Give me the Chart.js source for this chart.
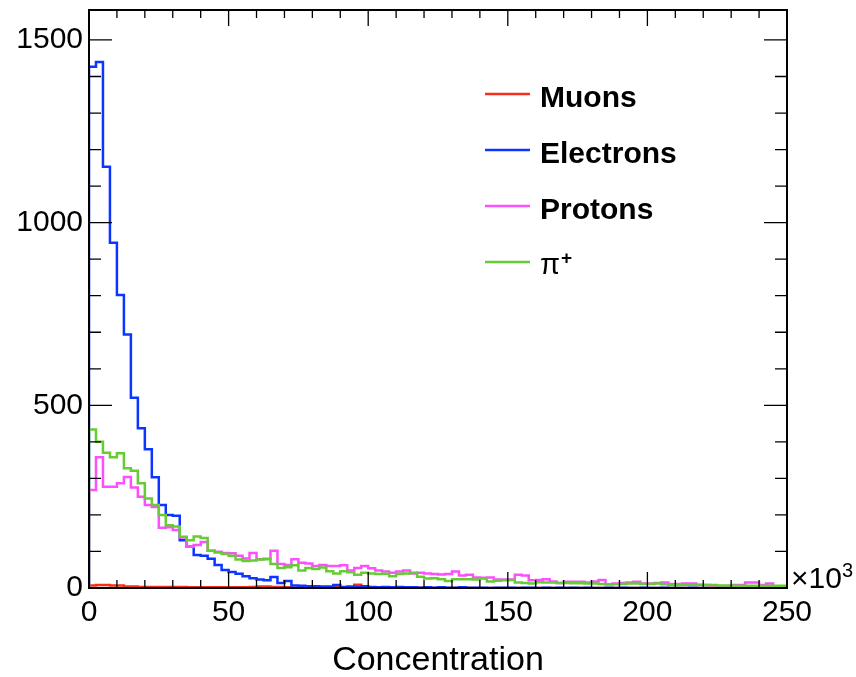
<!DOCTYPE html>
<html>
<head>
<meta charset="utf-8">
<script src="https://cdn.jsdelivr.net/npm/chart.js@4.4.1/dist/chart.umd.min.js"></script>
<style>
  html, body { margin: 0; padding: 0; background: #fff; }
  #wrap { width: 856px; height: 677px; }
</style>
</head>
<body>
<div id="wrap"><canvas id="hist"></canvas></div>
<script>
// histogram binning (x in units of 10^3)
const binWidth = 2.5;
const xMax = 250;
const yMax = 1582;
const xTicks = [0, 50, 100, 150, 200, 250];
const yTicks = [0, 500, 1000, 1500];

const seriesNames = ['Muons', 'Electrons', 'Protons', 'π+'];

const muons = [
  7, 8, 8, 7, 7, 4, 4, 3, 3, 3,
  3, 3, 3, 3, 2, 2, 2, 2, 2, 2,
  2, 2, 2, 3, 4, 4, 3, 3, 2, 1,
  1, 1, 1, 1, 1, 2, 1, 1, 9, 1,
  1, 0, 1, 0, 1, 0, 0, 1, 0, 0,
  0, 0, 0, 0, 0, 0, 0, 0, 0, 0,
  0, 0, 0, 0, 0, 0, 0, 0, 0, 0,
  0, 0, 0, 0, 0, 0, 0, 0, 0, 0,
  0, 0, 0, 0, 0, 0, 0, 0, 0, 0,
  0, 0, 0, 0, 0, 0, 0, 0, 0, 0
];

const electrons = [
  1427, 1440, 1153, 945, 802, 694, 521, 437, 380, 303,
  227, 200, 198, 131, 113, 90, 88, 80, 63, 49,
  44, 39, 32, 27, 23, 21, 30, 14, 19, 7,
  6, 5, 5, 4, 4, 8, 3, 4, 3, 5,
  3, 2, 3, 2, 3, 2, 2, 1, 2, 1,
  2, 1, 1, 2, 1, 1, 1, 0, 1, 1,
  1, 0, 1, 1, 0, 1, 0, 1, 0, 1,
  0, 1, 0, 0, 1, 0, 1, 0, 0, 1,
  0, 0, 1, 0, 0, 0, 1, 0, 0, 0,
  1, 0, 0, 0, 0, 1, 0, 0, 0, 0
];

const protons = [
  268, 358, 277, 277, 287, 304, 275, 250, 227, 222,
  165, 166, 159, 138, 113, 118, 126, 102, 99, 96,
  95, 88, 81, 96, 79, 80, 102, 66, 63, 79,
  69, 67, 60, 63, 60, 60, 62, 48, 55, 60,
  54, 48, 45, 42, 45, 48, 40, 42, 40, 38,
  37, 38, 45, 34, 36, 29, 28, 29, 23, 23,
  23, 36, 34, 21, 22, 24, 18, 14, 17, 17,
  17, 15, 18, 22, 10, 12, 14, 15, 17, 12,
  12, 14, 15, 11, 11, 12, 12, 8, 8, 5,
  5, 5, 8, 8, 15, 15, 8, 12, 5, 5
];

const pions = [
  434, 400, 370, 358, 369, 328, 321, 287, 245, 227,
  200, 172, 168, 140, 131, 141, 137, 102, 97, 93,
  88, 78, 74, 75, 78, 79, 66, 55, 57, 62,
  48, 55, 52, 56, 46, 40, 46, 43, 36, 42,
  40, 38, 39, 32, 38, 40, 42, 31, 26, 27,
  24, 19, 24, 24, 24, 23, 26, 18, 20, 21,
  22, 15, 14, 12, 16, 15, 15, 14, 14, 13,
  13, 12, 12, 11, 10, 10, 11, 12, 12, 11,
  11, 12, 10, 8, 8, 9, 9, 9, 8, 8,
  7, 7, 6, 6, 6, 6, 6, 6, 6, 6
];

const FONT = "'Liberation Sans', Arial, Helvetica, sans-serif";
const colors = ['#f5301a', '#0c36ff', '#fb50fb', '#66cc33'];

// ROOT-like outline: start on the axis, step over bins, drop back to zero
const toSteps = (vals) => {
  const pts = [{ x: 0, y: 0 }];
  vals.forEach((v, i) => pts.push({ x: i * binWidth, y: v }));
  pts.push({ x: vals.length * binWidth, y: 0 });
  return pts;
};

const rootFrame = {
  id: 'rootFrame',
  afterDatasetsDraw(chart) {
    const { ctx, chartArea: a, scales: { x, y } } = chart;
    ctx.save();
    ctx.strokeStyle = '#000';
    ctx.lineWidth = 1.3;
    ctx.beginPath();
    for (let v = 0; v <= xMax; v += 10) {
      const px = x.getPixelForValue(v);
      const len = v % 50 === 0 ? 16 : 8;
      ctx.moveTo(px, a.bottom); ctx.lineTo(px, a.bottom - len);
      ctx.moveTo(px, a.top); ctx.lineTo(px, a.top + len);
    }
    for (let v = 0; v <= yMax; v += 100) {
      const py = y.getPixelForValue(v);
      const len = v % 500 === 0 ? 23 : 12;
      ctx.moveTo(a.left, py); ctx.lineTo(a.left + len, py);
      ctx.moveTo(a.right, py); ctx.lineTo(a.right - len, py);
    }
    ctx.stroke();
    ctx.lineWidth = 2;
    ctx.strokeRect(a.left, a.top, a.right - a.left, a.bottom - a.top);

    // axis title and exponent
    ctx.fillStyle = '#000';
    ctx.font = '34px ' + FONT;
    ctx.textAlign = 'center';
    ctx.textBaseline = 'middle';
    ctx.fillText('Concentration', (a.left + a.right) / 2, 661);
    ctx.textAlign = 'left';
    ctx.textBaseline = 'alphabetic';
    ctx.font = '30px ' + FONT;
    ctx.fillText('×10', a.right + 4, a.bottom);
    const w = ctx.measureText('×10').width;
    ctx.font = '20px ' + FONT;
    ctx.fillText('3', a.right + 4 + w, a.bottom - 11);

    // legend
    chart.data.datasets.forEach((ds, i) => {
      const ly = 94 + i * 56;
      ctx.strokeStyle = ds.borderColor;
      ctx.lineWidth = 2.5;
      ctx.beginPath();
      ctx.moveTo(485, ly); ctx.lineTo(530, ly);
      ctx.stroke();
      ctx.fillStyle = '#000';
      if (ds.label.endsWith('+')) {
        ctx.font = '29px ' + FONT;
        const base = ds.label.slice(0, -1);
        ctx.fillText(base, 540, ly + 12);
        const bw = ctx.measureText(base).width;
        ctx.font = 'bold 19px ' + FONT;
        ctx.fillText('+', 540 + bw + 1, ly + 2);
      } else {
        ctx.font = 'bold 30px ' + FONT;
        ctx.fillText(ds.label, 540, ly + 13);
      }
    });
    ctx.restore();
  }
};

const allSeries = [muons, electrons, protons, pions];

new Chart(document.getElementById('hist'), {
  type: 'line',
  data: {
    datasets: allSeries.map((vals, i) => ({
      label: seriesNames[i],
      data: toSteps(vals),
      borderColor: colors[i],
      borderWidth: 2.5,
      stepped: 'before',
      pointRadius: 0,
      fill: false,
      tension: 0,
      order: allSeries.length - i
    }))
  },
  options: {
    responsive: true,
    maintainAspectRatio: false,
    animation: false,
    layout: { padding: { left: 0, top: 10, right: 69, bottom: 0 } },
    plugins: { legend: { display: false }, tooltip: { enabled: false } },
    scales: {
      x: {
        type: 'linear',
        min: 0,
        max: xMax,
        grid: { display: false, drawTicks: false },
        border: { display: false },
        afterBuildTicks: (s) => { s.ticks = xTicks.map(v => ({ value: v })); },
        afterFit: (s) => { s.height = 89; s.paddingLeft = 0; s.paddingRight = 0; },
        ticks: {
          padding: 7,
          color: '#000',
          maxRotation: 0,
          autoSkip: false,
          font: { family: FONT, size: 30 },
          callback: (v) => String(v)
        }
      },
      y: {
        type: 'linear',
        min: 0,
        max: yMax,
        grid: { display: false, drawTicks: false },
        border: { display: false },
        afterBuildTicks: (s) => { s.ticks = yTicks.map(v => ({ value: v })); },
        afterFit: (s) => { s.width = 89; s.paddingTop = 0; s.paddingBottom = 0; },
        ticks: {
          padding: 6,
          color: '#000',
          autoSkip: false,
          font: { family: FONT, size: 30 },
          callback: (v) => String(v)
        }
      }
    }
  },
  plugins: [rootFrame]
});
</script>
</body>
</html>
